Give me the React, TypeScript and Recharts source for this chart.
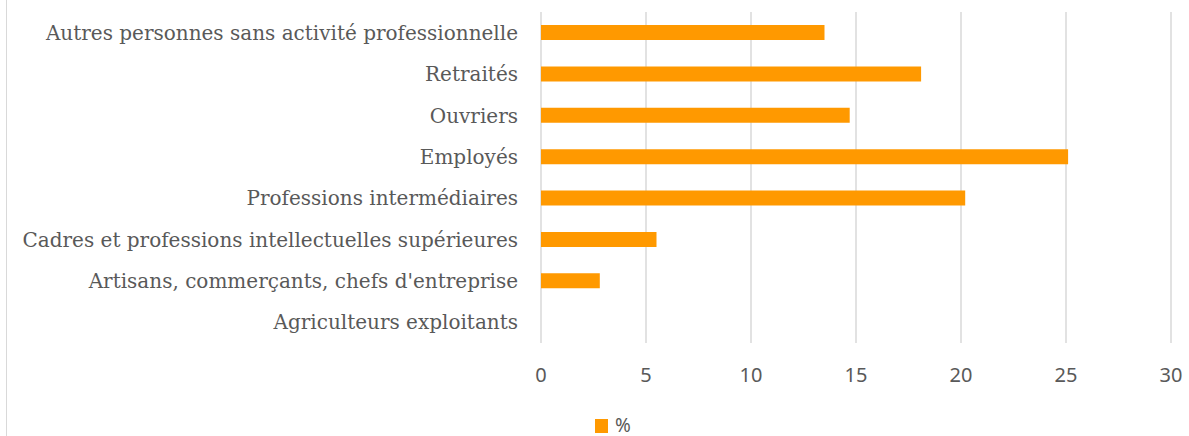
import { BarChart, Bar, XAxis, YAxis, CartesianGrid, Legend } from "recharts";

const categories = [
  "Autres personnes sans activité professionnelle",
  "Retraités",
  "Ouvriers",
  "Employés",
  "Professions intermédiaires",
  "Cadres et professions intellectuelles supérieures",
  "Artisans, commerçants, chefs d'entreprise",
  "Agriculteurs exploitants",
];
const values = [13.5, 18.1, 14.7, 25.1, 20.2, 5.5, 2.8, 0];
const xTicks = [0, 5, 10, 15, 20, 25, 30];
const seriesName = "%";

const data = categories.map((name, i) => ({ name, value: values[i] }));

const ORANGE = "#FF9900";
const GREY_TEXT = "#595959";

function renderLegend(props: any) {
  const item = props.payload?.[0];
  return (
    <div style={{ height: 43, boxSizing: "border-box", paddingTop: 26, paddingLeft: 595 }}>
      <div style={{ display: "flex", alignItems: "center", height: 14 }}>
        <span style={{ display: "inline-block", width: 13, height: 14, background: item?.color ?? ORANGE }} />
        <span
          style={{
            marginLeft: 7,
            marginTop: -3,
            fontFamily: "Noto Sans",
            fontSize: 19,
            lineHeight: "14px",
            color: GREY_TEXT,
          }}
        >
          {item?.value ?? seriesName}
        </span>
      </div>
    </div>
  );
}

export default function App() {
  return (
    <div style={{ position: "absolute", left: 0, top: 0, width: 1189, height: 436, background: "#fff", overflow: "hidden" }}>
      <div style={{ position: "absolute", left: 6, top: 0, width: 1, height: 436, background: "#d9d9d9" }} />
      <BarChart
        width={1189}
        height={436}
        data={data}
        layout="vertical"
        margin={{ top: 12, right: 18, left: 0, bottom: 0 }}
      >
        <CartesianGrid horizontal={false} stroke="#d9d9d9" strokeWidth={1.5} />
        <XAxis
          type="number"
          domain={[0, 30]}
          ticks={xTicks}
          axisLine={false}
          tickLine={false}
          tickSize={0}
          tickMargin={25}
          height={50}
          tick={{ fill: GREY_TEXT, fontSize: 20, fontFamily: "Noto Sans" }}
        />
        <YAxis
          type="category"
          dataKey="name"
          width={541}
          axisLine={false}
          tickLine={false}
          tickSize={0}
          tickMargin={23}
          interval={0}
          tick={{ fill: GREY_TEXT, fontSize: 20, fontFamily: "DejaVu Serif" }}
        />
        <Legend verticalAlign="bottom" wrapperStyle={{ left: 0, width: 1189, height: 43 }} content={renderLegend} />
        <Bar dataKey="value" name={seriesName} fill={ORANGE} barSize={15} isAnimationActive={false} />
      </BarChart>
    </div>
  );
}
